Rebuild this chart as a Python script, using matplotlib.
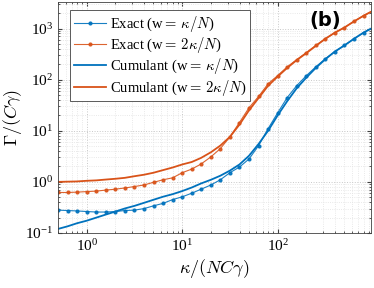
import matplotlib
matplotlib.use('Agg')
import matplotlib.pyplot as plt
import numpy as np

# kappa/(N C gamma) grid, 0.1-decade steps from 0.5 to 1000
kappa = [0.50, 0.63, 0.79, 1.0, 1.26, 1.58, 2.0, 2.51, 3.16, 3.98,
         5.01, 6.31, 7.94, 10.0, 12.6, 15.8, 20.0, 25.1, 31.6, 39.8,
         50.1, 63.1, 79.4, 100, 126, 158, 200, 251, 316, 398,
         501, 631, 794, 1000]

exact_w1 = [0.28, 0.275, 0.27, 0.263, 0.257, 0.257, 0.263, 0.275, 0.28, 0.30,
            0.34, 0.38, 0.45, 0.51, 0.60, 0.72, 0.87, 1.10, 1.51, 1.95,
            2.8, 5.1, 11.0, 22.4, 44.7, 76, 120, 178, 257, 355,
            468, 631, 832, 1047]

exact_w2 = [0.62, 0.62, 0.63, 0.645, 0.66, 0.69, 0.72, 0.76, 0.81, 0.87,
            0.98, 1.10, 1.20, 1.51, 1.78, 2.24, 3.09, 4.47, 7.6, 14.5,
            28.2, 46.8, 83, 120, 178, 245, 339, 468, 631, 832,
            1047, 1380, 1778, 2239]

cumul_w1 = [0.120, 0.135, 0.155, 0.174, 0.200, 0.229, 0.263, 0.302, 0.339, 0.389,
            0.447, 0.513, 0.575, 0.661, 0.776, 0.933, 1.10, 1.32, 1.66, 2.19,
            3.24, 5.50, 10.0, 20.0, 38.0, 67.6, 110, 170, 251, 355,
            468, 631, 832, 1047]

cumul_w2 = [1.00, 1.01, 1.02, 1.05, 1.07, 1.11, 1.15, 1.20, 1.29, 1.38,
            1.51, 1.70, 1.91, 2.19, 2.45, 2.95, 3.80, 5.13, 7.59, 13.2,
            25.1, 43.7, 75.9, 115, 170, 240, 331, 457, 631, 832,
            1047, 1380, 1778, 2239]

blue = '#0072BD'
orange = '#D95319'

plt.rcParams['font.family'] = 'serif'
plt.rcParams['font.serif'] = ['Liberation Serif', 'DejaVu Serif']
plt.rcParams['mathtext.fontset'] = 'cm'

fig = plt.figure(figsize=(3.74, 2.88), dpi=100)
ax = fig.add_axes([0.155, 0.191, 0.837, 0.802])

ax.plot(kappa, exact_w1, '.-', color=blue, lw=0.8, ms=4, alpha=0.9,
        label=r'Exact (w$=\,\kappa/N$)')
ax.plot(kappa, exact_w2, '.-', color=orange, lw=0.8, ms=4, alpha=0.9,
        label=r'Exact (w$=\,2\kappa/N$)')
ax.plot(kappa, cumul_w1, '-', color=blue, lw=1.3,
        label=r'Cumulant (w$=\,\kappa/N$)')
ax.plot(kappa, cumul_w2, '-', color=orange, lw=1.3,
        label=r'Cumulant (w$=\,2\kappa/N$)')

ax.set_xscale('log')
ax.set_yscale('log')
ax.set_xlim(0.5, 950)
ax.set_ylim(0.1, 3300)

ax.grid(True, which='major', ls=':', color='#c8c8c8', lw=0.7)
ax.grid(True, which='minor', ls=':', color='#e2e2e2', lw=0.6)
ax.tick_params(which='both', direction='in', top=True, right=True,
               labelsize=11, color='#404040')
ax.tick_params(which='major', length=3)
ax.tick_params(which='minor', length=1.6)
for s in ax.spines.values():
    s.set_color('#404040')
    s.set_linewidth(0.6)

ax.set_xlabel(r'$\kappa/(NC\gamma)$', fontsize=13, labelpad=2)
ax.set_ylabel(r'$\Gamma/(C\gamma)$', fontsize=13, labelpad=1)

leg = ax.legend(loc='upper left', fontsize=10.5, labelspacing=0.08,
                handlelength=2.2, handletextpad=0.3, borderpad=0.25,
                fancybox=False, framealpha=1, edgecolor='#404040',
                bbox_to_anchor=(0.015, 0.995))
leg.get_frame().set_linewidth(0.6)

ax.text(0.905, 0.918, '(b)', transform=ax.transAxes, ha='right', va='center',
        fontsize=14, fontweight='bold', family='DejaVu Sans')

fig.savefig('out.png', dpi=100)
